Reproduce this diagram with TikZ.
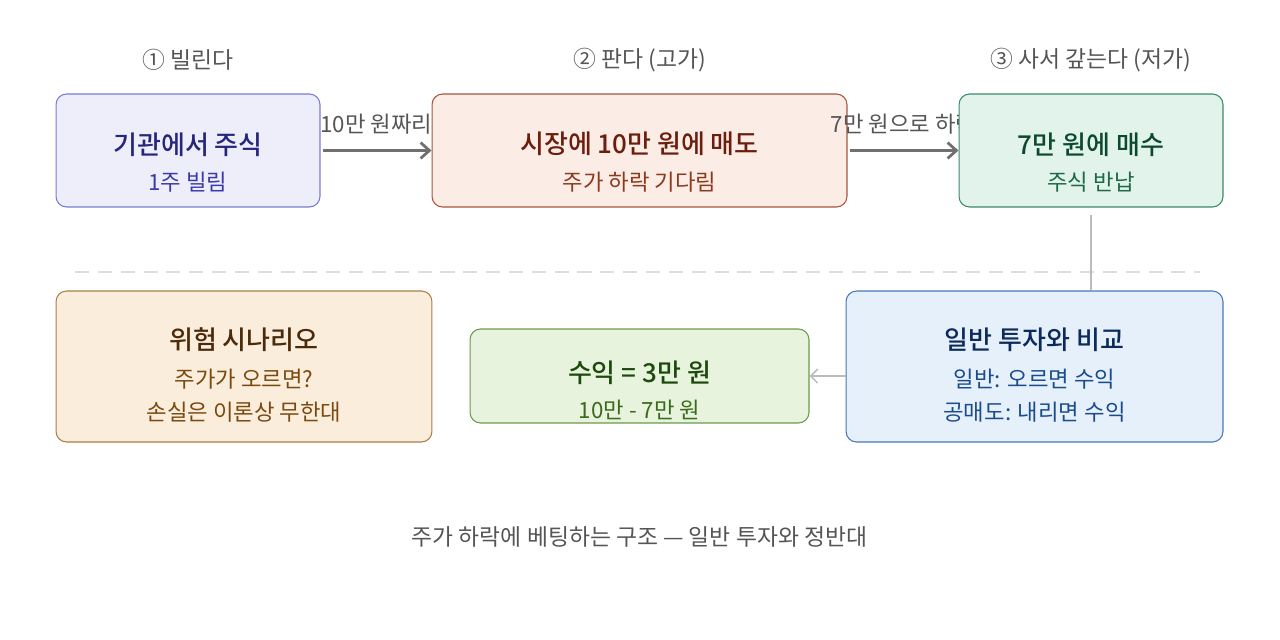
\documentclass[tikz,border=0pt]{standalone}
\usepackage{fontspec}
\setmainfont{Noto Sans CJK KR}
\newfontfamily\titlefont{Noto Sans CJK KR Medium}
\usetikzlibrary{arrows.meta}

\definecolor{stepgray}{HTML}{555555}
\definecolor{arrowgray}{HTML}{707070}
\definecolor{linkgray}{HTML}{BBBBBB}
\definecolor{lendfill}{HTML}{EEEEFB}
\definecolor{lenddraw}{HTML}{7A7AD6}
\definecolor{lendtext}{HTML}{26267A}
\definecolor{lendsub}{HTML}{3A3AA8}
\definecolor{sellfill}{HTML}{FBECE6}
\definecolor{selldraw}{HTML}{A8553A}
\definecolor{selltext}{HTML}{6A1E0C}
\definecolor{sellsub}{HTML}{8C3A1E}
\definecolor{buyfill}{HTML}{E2F3EC}
\definecolor{buydraw}{HTML}{3A8A66}
\definecolor{buytext}{HTML}{0C4A30}
\definecolor{buysub}{HTML}{1E6A46}
\definecolor{cmpfill}{HTML}{E6F0FA}
\definecolor{cmpdraw}{HTML}{4A78B4}
\definecolor{cmptext}{HTML}{0C2A5A}
\definecolor{cmpsub}{HTML}{1A4C8C}
\definecolor{gainfill}{HTML}{E8F3DE}
\definecolor{gaindraw}{HTML}{6A9A4A}
\definecolor{gaintext}{HTML}{1C4A0C}
\definecolor{gainsub}{HTML}{3A6A1A}
\definecolor{riskfill}{HTML}{FAEDDC}
\definecolor{riskdraw}{HTML}{A88048}
\definecolor{risktext}{HTML}{4A2A0A}
\definecolor{risksub}{HTML}{7A4A10}

\newcommand{\boxtitle}[1]{{\fontsize{14.8}{17}\selectfont\titlefont #1}}

\begin{document}
\begin{tikzpicture}[x=0.02cm, y=-0.02cm,
  box/.style={draw, rounded corners=6pt, line width=0.6pt, inner sep=0pt},
  boxtext/.style={align=center, inner sep=0pt, font=\fontsize{12.7}{18.5}\selectfont},
  steplabel/.style={text=stepgray, font=\fontsize{13}{15}\selectfont},
  flow/.style={-{Straight Barb[length=5pt, width=9pt]}, line width=1.6pt, color=arrowgray}]

  \useasboundingbox (0,0) rectangle (1280,639);

  % Step labels
  \node[steplabel] (S1) at (188,60) {① 빌린다};
  \node[steplabel] (S2) at (639.5,60) {② 판다 (고가)};
  \node[steplabel] (S3) at (1091,60) {③ 사서 갚는다 (저가)};

  % First row
  \node[box, fill=lendfill, draw=lenddraw, minimum width=5.28cm, minimum height=2.26cm] (A1) at (188,150.5) {};
  \node[boxtext, text=lendsub] (T1) at ([shift={(0,12)}]A1.center)
    {\textcolor{lendtext}{\boxtitle{기관에서 주식}}\\[2.5pt] 1주 빌림};
  \node[steplabel, font=\fontsize{12.7}{15}\selectfont] (L1) at (376.5,124) {10만 원짜리};
  \node[box, fill=sellfill, draw=selldraw, minimum width=8.3cm, minimum height=2.26cm] (A2) at (639.5,150.5) {};
  \node[boxtext, text=sellsub] (T2) at ([shift={(0,12)}]A2.center)
    {\textcolor{selltext}{\boxtitle{시장에 10만 원에 매도}}\\[2.5pt] 주가 하락 기다림};
  \node[steplabel, font=\fontsize{12.7}{15}\selectfont] (L2) at (903.5,124) {7만 원으로 하락};
  \node[box, fill=buyfill, draw=buydraw, minimum width=5.28cm, minimum height=2.26cm] (A3) at (1091,150.5) {};
  \node[boxtext, text=buysub] (T3) at ([shift={(0,12)}]A3.center)
    {\textcolor{buytext}{\boxtitle{7만 원에 매수}}\\[2.5pt] 주식 반납};

  % Separator
  \coordinate (D1) at (75,272);
  \coordinate (D2) at (1200,272);
  \draw[dashed, dash pattern=on 8pt off 5pt, color=black!13, line width=0.6pt] (D1) -- (D2);

  % Second row
  \node[box, fill=cmpfill, draw=cmpdraw, minimum width=7.54cm, minimum height=3.02cm] (B3) at (1034.5,366.5) {};
  \node[boxtext, text=cmpsub] (U3) at ([shift={(0,8.5)}]B3.center)
    {\textcolor{cmptext}{\boxtitle{일반 투자와 비교}}\\[3pt] 일반: 오르면 수익\\ 공매도: 내리면 수익};
  \node[box, fill=gainfill, draw=gaindraw, minimum width=6.78cm, minimum height=1.88cm] (B2) at (639.5,376) {};
  \node[boxtext, text=gainsub] (U2) at ([shift={(0,14)}]B2.center)
    {\textcolor{gaintext}{\boxtitle{수익 = 3만 원}}\\[2pt] 10만 - 7만 원};
  \node[box, fill=riskfill, draw=riskdraw, minimum width=7.52cm, minimum height=3.02cm] (B1) at (244,366.5) {};
  \node[boxtext, text=risksub] (U1) at ([shift={(0,8.5)}]B1.center)
    {\textcolor{risktext}{\boxtitle{위험 시나리오}}\\[3pt] 주가가 오르면?\\ 손실은 이론상 무한대};

  % Horizontal arrows
  \draw[flow] (A1.east) ++(2,0) -- (A2.west);
  \draw[flow] (A2.east) ++(2,0) -- (A3.west);

  % Links to the second row
  \draw[color=linkgray, line width=0.9pt] ([yshift=-4pt]A3.south) -- (A3.south |- B3.north);
  \draw[-{Straight Barb[length=4pt, width=8pt]}, color=linkgray, line width=0.9pt] (B3.west |- B2.east) -- (B2.east);

  % Caption
  \node[steplabel] (C) at (639.5,537) {주가 하락에 베팅하는 구조 — 일반 투자와 정반대};

\end{tikzpicture}
\end{document}
